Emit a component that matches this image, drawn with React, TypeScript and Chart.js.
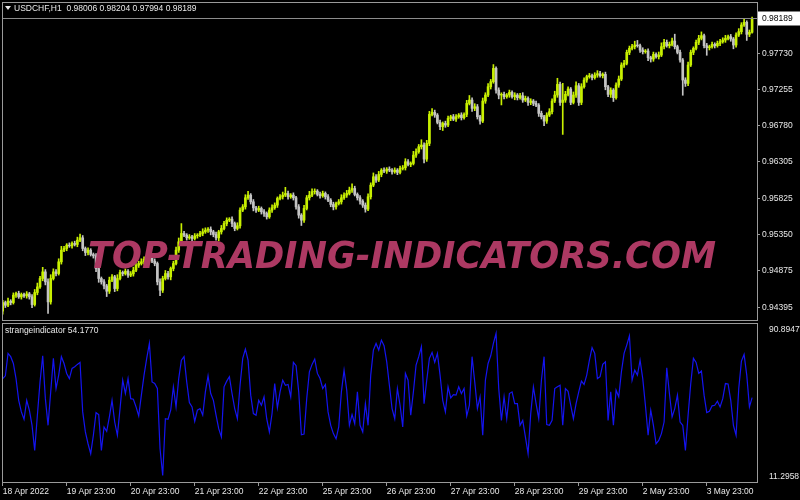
import React, { useEffect, useRef } from 'react';
import { Chart, registerables } from 'chart.js';

Chart.register(...registerables);

// ---------- DATA ----------
const symbolTitle = 'USDCHF,H1  0.98006 0.98204 0.97994 0.98189';
const indicatorTitle = 'strangeindicator 54.1770';
const bidPrice = 0.98189;
const firstOpen = 0.94345;

const closes = [
  0.94457, 0.94422, 0.94475, 0.94457, 0.94554, 0.94576, 0.94532, 0.94563, 0.94545, 0.94571,
  0.94532, 0.94431, 0.94589, 0.94663, 0.94773, 0.94860, 0.94729, 0.94466, 0.94773, 0.94860,
  0.94838, 0.94992, 0.95145, 0.95167, 0.95211, 0.95202, 0.95233, 0.95220, 0.95276, 0.95307,
  0.95167, 0.95114, 0.95145, 0.95088, 0.95071, 0.94904, 0.94773, 0.94729, 0.94676, 0.94606,
  0.94751, 0.94795, 0.94641, 0.94773, 0.94852, 0.94838, 0.94869, 0.94817, 0.94834, 0.94882,
  0.94948, 0.94970, 0.94992, 0.95027, 0.95014, 0.95071, 0.95001, 0.94970, 0.94729, 0.94619,
  0.94773, 0.94838, 0.94795, 0.94904, 0.94970, 0.95145, 0.95255, 0.95364, 0.95342, 0.95307,
  0.95320, 0.95298, 0.95333, 0.95342, 0.95364, 0.95386, 0.95408, 0.95421, 0.95386, 0.95351,
  0.95307, 0.95386, 0.95430, 0.95495, 0.95539, 0.95552, 0.95495, 0.95430, 0.95465, 0.95671,
  0.95714, 0.95833, 0.95868, 0.95780, 0.95701, 0.95671, 0.95693, 0.95649, 0.95627, 0.95583,
  0.95671, 0.95701, 0.95736, 0.95824, 0.95846, 0.95868, 0.95890, 0.95846, 0.95868, 0.95833,
  0.95714, 0.95605, 0.95539, 0.95693, 0.95833, 0.95868, 0.95912, 0.95920, 0.95877, 0.95859,
  0.95890, 0.95846, 0.95802, 0.95745, 0.95714, 0.95758, 0.95780, 0.95833, 0.95868, 0.95890,
  0.95933, 0.95955, 0.95877, 0.95833, 0.95789, 0.95736, 0.95684, 0.95846, 0.95999, 0.96109,
  0.96065, 0.96139, 0.96196, 0.96183, 0.96209, 0.96196, 0.96174, 0.96196, 0.96166, 0.96218,
  0.96227, 0.96306, 0.96271, 0.96284, 0.96393, 0.96437, 0.96503, 0.96525, 0.96341, 0.96547,
  0.96928, 0.96954, 0.96919, 0.96823, 0.96766, 0.96809, 0.96788, 0.96875, 0.96897, 0.96866,
  0.96897, 0.96919, 0.96884, 0.96928, 0.97072, 0.97116, 0.97007, 0.97028, 0.96897, 0.96840,
  0.97103, 0.97182, 0.97291, 0.97357, 0.97532, 0.97247, 0.97182, 0.97191, 0.97160, 0.97182,
  0.97217, 0.97160, 0.97182, 0.97147, 0.97173, 0.97116, 0.97138, 0.97085, 0.97103, 0.97072,
  0.97050, 0.96941, 0.96897, 0.96840, 0.96919, 0.96963, 0.97103, 0.97182, 0.97322, 0.97085,
  0.97116, 0.97191, 0.97261, 0.97085, 0.97182, 0.97304, 0.97085, 0.97291, 0.97379, 0.97423,
  0.97436, 0.97410, 0.97445, 0.97462, 0.97436, 0.97453, 0.97291, 0.97191, 0.97247, 0.97147,
  0.97313, 0.97392, 0.97576, 0.97598, 0.97742, 0.97795, 0.97817, 0.97839, 0.97830, 0.97773,
  0.97751, 0.97760, 0.97672, 0.97655, 0.97716, 0.97685, 0.97707, 0.97817, 0.97874, 0.97830,
  0.97848, 0.97891, 0.97817, 0.97742, 0.97642, 0.97379, 0.97335, 0.97576, 0.97742, 0.97795,
  0.97874, 0.97926, 0.97961, 0.97830, 0.97804, 0.97817, 0.97848, 0.97830, 0.97861, 0.97883,
  0.97904, 0.97926, 0.97948, 0.97918, 0.97839, 0.97970, 0.98014, 0.98102, 0.98137, 0.97979,
  0.98006, 0.98189,
];

// upper / lower shadow lengths in pips (0.0001)
const wickUp = [
  3, 2, 4, 2, 3, 2, 3, 2, 2, 3,
  2, 3, 4, 5, 3, 6, 3, 4, 5, 4,
  3, 4, 5, 3, 2, 3, 2, 3, 4, 5,
  3, 2, 3, 2, 2, 3, 4, 2, 3, 2,
  4, 3, 2, 5, 3, 2, 3, 2, 3, 4,
  2, 3, 4, 3, 5, 3, 2, 3, 2, 4,
  3, 4, 3, 2, 3, 4, 5, 13, 3, 2,
  3, 2, 3, 2, 3, 4, 3, 2, 3, 2,
  3, 2, 4, 3, 3, 2, 3, 2, 4, 3,
  3, 4, 5, 2, 3, 2, 3, 2, 3, 2,
  3, 4, 3, 2, 3, 4, 8, 3, 2, 3,
  2, 3, 2, 4, 3, 5, 4, 3, 2, 3,
  3, 2, 3, 2, 3, 2, 3, 4, 3, 4,
  4, 6, 3, 2, 3, 2, 3, 4, 3, 5,
  3, 4, 2, 3, 2, 3, 2, 3, 2, 3,
  3, 4, 3, 2, 5, 4, 3, 7, 3, 4,
  4, 5, 3, 2, 3, 2, 3, 3, 2, 3,
  3, 2, 3, 2, 4, 6, 3, 4, 3, 2,
  4, 3, 4, 3, 5, 2, 3, 2, 3, 2,
  3, 2, 3, 2, 3, 4, 3, 2, 3, 2,
  3, 2, 3, 2, 3, 4, 3, 5, 8, 3,
  22, 4, 3, 2, 4, 5, 3, 4, 3, 2,
  3, 2, 3, 4, 3, 2, 3, 2, 3, 2,
  3, 4, 3, 4, 3, 3, 3, 5, 6, 2,
  3, 2, 3, 2, 3, 2, 4, 5, 4, 3,
  3, 4, 9, 2, 3, 2, 3, 4, 3, 2,
  3, 4, 5, 2, 3, 2, 3, 2, 3, 3,
  3, 4, 2, 3, 2, 3, 4, 3, 5, 2,
  3, 1.5,
];

const wickDn = [
  4, 3, 2, 3, 2, 3, 2, 3, 2, 3,
  3, 4, 2, 3, 2, 3, 4, 15, 3, 2,
  3, 2, 3, 2, 3, 2, 3, 2, 3, 2,
  3, 4, 3, 2, 3, 4, 5, 3, 4, 7,
  3, 2, 4, 3, 2, 3, 2, 3, 2, 3,
  2, 3, 2, 3, 2, 3, 2, 3, 4, 7,
  3, 2, 3, 4, 3, 2, 3, 3, 2, 3,
  2, 3, 2, 3, 2, 3, 2, 3, 4, 3,
  3, 4, 3, 2, 3, 2, 4, 3, 2, 3,
  2, 3, 2, 3, 4, 3, 2, 3, 4, 3,
  2, 3, 2, 3, 2, 3, 2, 3, 2, 3,
  3, 4, 7, 3, 2, 3, 2, 3, 2, 3,
  2, 3, 2, 3, 4, 3, 2, 3, 2, 3,
  2, 3, 2, 3, 4, 3, 4, 2, 3, 2,
  3, 2, 3, 2, 3, 2, 3, 2, 3, 2,
  2, 3, 2, 3, 2, 3, 2, 3, 5, 3,
  3, 2, 3, 2, 4, 5, 3, 2, 3, 2,
  3, 2, 3, 2, 3, 2, 4, 3, 3, 4,
  2, 3, 2, 3, 2, 4, 5, 13, 3, 2,
  3, 2, 4, 3, 2, 3, 2, 4, 3, 3,
  2, 4, 3, 6, 3, 2, 3, 2, 3, 4,
  42, 3, 2, 3, 2, 3, 4, 3, 2, 3,
  2, 3, 2, 3, 2, 3, 4, 3, 4, 5,
  2, 3, 2, 3, 2, 3, 2, 3, 2, 3,
  3, 2, 4, 4, 3, 2, 3, 2, 3, 2,
  3, 2, 3, 2, 3, 20, 4, 3, 2, 3,
  2, 3, 2, 3, 10, 3, 2, 3, 2, 3,
  2, 3, 2, 3, 5, 3, 2, 3, 2, 8,
  3, 1.2,
];

const indicator = [
  64.5, 66.0, 78.2, 76.4, 72.7, 64.5, 52.7, 46.4, 42.4, 52.7,
  47.3, 39.1, 25.5, 44.6, 62.7, 76.9, 53.6, 39.1, 57.3, 75.5,
  59.1, 66.4, 76.4, 72.7, 67.3, 64.5, 70.0, 70.9, 72.2, 73.3,
  46.4, 35.5, 29.1, 23.7, 33.7, 46.0, 44.9, 25.5, 38.2, 35.8,
  43.7, 52.7, 40.9, 33.7, 48.2, 63.6, 56.4, 64.5, 53.6, 53.3,
  49.1, 44.2, 55.5, 66.4, 75.5, 83.6, 62.7, 61.8, 59.1, 26.4,
  11.9, 42.7, 42.4, 47.3, 60.0, 49.1, 64.5, 74.5, 76.4, 62.7,
  51.5, 49.1, 41.3, 47.3, 48.2, 44.6, 57.3, 66.0, 56.4, 52.7,
  44.6, 37.3, 32.8, 60.0, 63.1, 65.5, 56.4, 48.2, 42.7, 60.9,
  75.5, 80.5, 74.5, 55.5, 45.5, 44.6, 52.7, 50.0, 54.6, 42.7,
  35.5, 45.5, 61.8, 48.6, 57.3, 63.6, 60.9, 61.3, 54.6, 73.3,
  71.5, 57.3, 34.0, 34.4, 53.6, 68.2, 72.2, 75.1, 67.3, 64.5,
  59.1, 61.3, 46.4, 39.1, 34.6, 31.8, 38.2, 57.3, 69.1, 58.2,
  39.1, 44.9, 40.0, 57.3, 39.1, 35.5, 50.9, 39.1, 66.4, 80.0,
  83.6, 80.0, 85.4, 82.4, 73.6, 60.9, 48.2, 42.7, 59.1, 50.0,
  38.2, 67.3, 63.6, 44.6, 57.3, 71.8, 76.4, 81.8, 50.9, 63.6,
  75.5, 78.7, 73.3, 78.2, 66.4, 52.7, 46.4, 60.0, 54.0, 55.8,
  55.5, 60.0, 56.4, 59.1, 44.2, 50.0, 76.4, 62.7, 48.2, 54.6,
  33.7, 63.6, 72.7, 76.9, 83.6, 89.1, 59.1, 41.8, 54.6, 42.7,
  56.4, 57.3, 50.9, 50.9, 39.1, 41.8, 32.8, 23.7, 45.5, 60.0,
  50.9, 42.7, 63.6, 76.4, 39.5, 39.1, 41.8, 59.1, 60.0, 60.9,
  39.1, 59.1, 57.6, 50.0, 42.7, 50.9, 57.3, 63.1, 61.3, 66.4,
  74.5, 81.3, 78.2, 64.5, 65.5, 72.2, 73.6, 41.8, 57.3, 39.1,
  58.2, 54.6, 68.2, 78.2, 82.7, 87.8, 63.6, 69.1, 66.4, 74.5,
  64.5, 50.0, 33.7, 47.3, 39.1, 29.1, 30.9, 34.6, 40.9, 70.4,
  56.4, 43.7, 48.2, 55.5, 40.9, 39.1, 25.5, 44.6, 61.8, 75.5,
  73.3, 67.3, 68.6, 55.5, 46.0, 46.7, 49.7, 50.0, 52.2, 49.1,
  53.6, 61.8, 61.6, 52.7, 39.1, 33.7, 59.1, 74.0, 77.6, 66.4,
  49.1, 54.177,
];

const priceTicks = [0.94395, 0.94875, 0.9535, 0.95825, 0.96305, 0.9678, 0.97255, 0.9773];
const indicatorTicks = [11.2958, 90.8947];
const timeTickBars = [0, 24, 48, 72, 96, 120, 144, 168, 192, 216, 240, 264];
const timeTickLabels = [
  '18 Apr 2022', '19 Apr 23:00', '20 Apr 23:00', '21 Apr 23:00', '22 Apr 23:00', '25 Apr 23:00',
  '26 Apr 23:00', '27 Apr 23:00', '28 Apr 23:00', '29 Apr 23:00', '2 May 23:00', '3 May 23:00',
];
const watermark = 'TOP-TRADING-INDICATORS.COM';

// ---------- STYLE ----------
const FONT = "'Liberation Sans', Arial, sans-serif";
const FS = 8.5;
const TXT = '#e8e8e8';
const FRAME = '#9a9a9a';
const BULL = '#c8f000';
const BEAR = '#c4c4c4';
const LINE = '#1414f0';
const X_MIN = -0.2625;
const X_MAX = 282.84;

const opens = closes.map((_, i) => (i === 0 ? firstOpen : closes[i - 1]));
const highs = closes.map((c, i) => Math.max(c, opens[i]) + wickUp[i] * 0.0001);
const lows = closes.map((c, i) => Math.min(c, opens[i]) - wickDn[i] * 0.0001);
const barColors = closes.map((c, i) => (c >= opens[i] ? BULL : BEAR));

const noPadY = (width: number) => (s: any) => {
  s.width = width;
  s.paddingTop = 0;
  s.paddingBottom = 0;
};

const framePlugin = (name: string, drawExtra?: (chart: any) => void) => ({
  id: 'frame_' + name,
  afterDatasetsDraw(chart: any) {
    const { ctx, chartArea: a } = chart;
    ctx.save();
    if (drawExtra) drawExtra(chart);
    ctx.strokeStyle = FRAME;
    ctx.lineWidth = 1;
    ctx.strokeRect(a.left + 0.5, a.top + 0.5, a.right - a.left, a.bottom - a.top);
    ctx.restore();
  },
});

export default function App() {
  const mainRef = useRef<HTMLCanvasElement>(null);
  const indRef = useRef<HTMLCanvasElement>(null);

  useEffect(() => {
    Chart.defaults.font.family = FONT;
    Chart.defaults.font.size = FS;
    Chart.defaults.color = TXT;

    const wickData = closes.map((_, i) => ({ x: i, y: [lows[i], highs[i]] }));
    const bodyData = closes.map((c, i) => {
      const lo = Math.min(c, opens[i]);
      const hi = Math.max(c, opens[i]);
      return { x: i, y: [lo, Math.max(hi, lo + 0.00002)] };
    });

    const mainExtra = (chart: any) => {
      const { ctx, chartArea: a, scales } = chart;
      // bid line
      const by = Math.round(scales.y.getPixelForValue(bidPrice)) + 0.5;
      ctx.strokeStyle = '#8c8c8c';
      ctx.lineWidth = 1;
      ctx.beginPath();
      ctx.moveTo(a.left, by);
      ctx.lineTo(a.right + 1, by);
      ctx.stroke();
      // watermark
      ctx.font = "italic bold 37px 'DejaVu Sans', sans-serif";
      const w = ctx.measureText(watermark).width;
      ctx.save();
      ctx.translate(88, 268);
      ctx.scale(628 / w, 1);
      ctx.fillStyle = '#ad3963';
      ctx.textBaseline = 'alphabetic';
      ctx.fillText(watermark, 0, 0);
      ctx.restore();
      // bid label box
      ctx.fillStyle = '#ffffff';
      ctx.fillRect(a.right + 1, by - 7, 800 - a.right - 1, 14);
      ctx.fillStyle = '#000000';
      ctx.font = `${FS}px ${FONT}`;
      ctx.textBaseline = 'middle';
      ctx.textAlign = 'left';
      ctx.fillText(bidPrice.toFixed(5), a.right + 5, by);
      // title
      ctx.fillStyle = TXT;
      ctx.beginPath();
      ctx.moveTo(5, 6);
      ctx.lineTo(11, 6);
      ctx.lineTo(8, 10);
      ctx.closePath();
      ctx.fill();
      ctx.fillText(symbolTitle, 14, 9);
    };

    const main = new Chart(mainRef.current as HTMLCanvasElement, {
      type: 'bar',
      data: {
        datasets: [
          { data: wickData as any, backgroundColor: barColors, barThickness: 1, grouped: false } as any,
          { data: bodyData as any, backgroundColor: barColors, barThickness: 2, grouped: false } as any,
        ],
      },
      options: {
        animation: false,
        responsive: false,
        maintainAspectRatio: false,
        layout: { padding: { left: 2, top: 2, bottom: 2, right: 0 } },
        plugins: { legend: { display: false }, tooltip: { enabled: false } },
        scales: {
          x: { type: 'linear', min: X_MIN, max: X_MAX, offset: false, display: false },
          y: {
            position: 'right',
            min: 0.942281,
            max: 0.984036,
            afterFit: noPadY(43),
            afterBuildTicks: (s: any) => { s.ticks = priceTicks.map((v) => ({ value: v })); },
            ticks: { callback: (v: any) => Number(v).toFixed(5), padding: 2, color: TXT, font: { size: FS } },
            grid: { drawOnChartArea: false, tickLength: 3, color: FRAME },
            border: { display: false },
          },
        },
      } as any,
      plugins: [framePlugin('main', mainExtra)],
    });

    const indExtra = (chart: any) => {
      const { ctx } = chart;
      ctx.fillStyle = TXT;
      ctx.font = `${FS}px ${FONT}`;
      ctx.textBaseline = 'middle';
      ctx.textAlign = 'left';
      ctx.fillText(indicatorTitle, 5, 9);
    };

    const ind = new Chart(indRef.current as HTMLCanvasElement, {
      type: 'line',
      data: {
        datasets: [
          {
            data: indicator.map((v, i) => ({ x: i, y: v })),
            borderColor: LINE,
            borderWidth: 1.2,
            pointRadius: 0,
            tension: 0,
          },
        ],
      },
      options: {
        animation: false,
        responsive: false,
        maintainAspectRatio: false,
        layout: { padding: { left: 2, top: 1, bottom: 0, right: 0 } },
        plugins: { legend: { display: false }, tooltip: { enabled: false } },
        scales: {
          x: {
            type: 'linear',
            min: X_MIN,
            max: X_MAX,
            offset: false,
            afterFit: (s: any) => { s.height = 18; s.paddingLeft = 0; s.paddingRight = 0; },
            afterBuildTicks: (s: any) => { s.ticks = timeTickBars.map((v) => ({ value: v })); },
            ticks: {
              autoSkip: false,
              maxRotation: 0,
              align: 'start',
              padding: 1,
              color: TXT,
              font: { size: FS },
              callback: (v: any) => timeTickLabels[timeTickBars.indexOf(Number(v))] ?? '',
            },
            grid: { drawOnChartArea: false, tickLength: 4, color: FRAME },
            border: { display: false },
          },
          y: {
            position: 'right',
            min: 8.307,
            max: 94.698,
            afterFit: noPadY(43),
            afterBuildTicks: (s: any) => { s.ticks = indicatorTicks.map((v) => ({ value: v })); },
            ticks: { callback: (v: any) => Number(v).toFixed(4), padding: 4, color: TXT, font: { size: FS } },
            grid: { display: false },
            border: { display: false },
          },
        },
      } as any,
      plugins: [framePlugin('indicator', indExtra)],
    });

    return () => {
      main.destroy();
      ind.destroy();
    };
  }, []);

  return (
    <div style={{ position: 'fixed', left: 0, top: 0, width: 800, height: 500, background: '#000', overflow: 'hidden' }}>
      <canvas ref={mainRef} width={800} height={322} style={{ position: 'absolute', left: 0, top: 0, width: 800, height: 322 }} />
      <canvas ref={indRef} width={800} height={178} style={{ position: 'absolute', left: 0, top: 322, width: 800, height: 178 }} />
    </div>
  );
}
